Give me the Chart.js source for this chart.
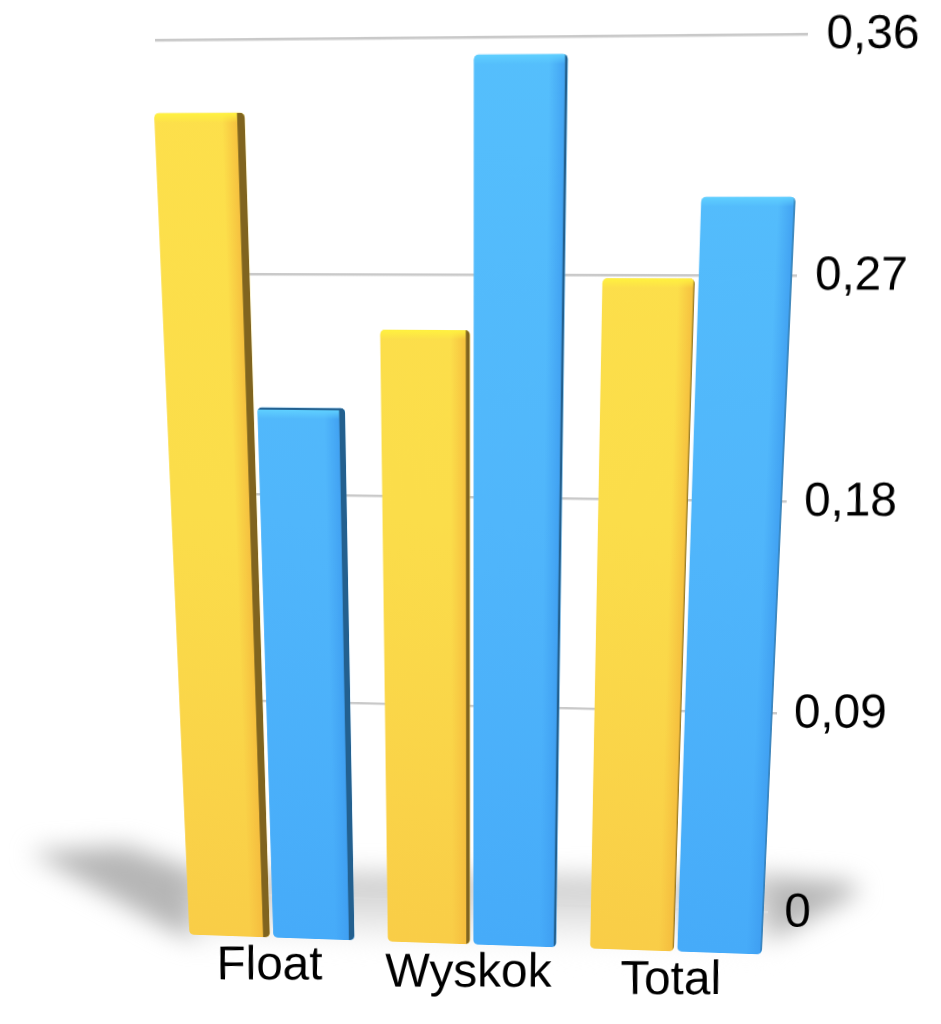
<!DOCTYPE html>
<html>
<head>
    <title>Float Wyskok Total</title>
    <script src="https://cdn.jsdelivr.net/npm/chart.js"></script>
    <style>
        html, body { margin: 0; background: #fff; overflow: hidden; width: 941px; height: 1024px; }
        canvas { position: absolute; left: 0; top: 0; transform-origin: 0 0; }
        .blur { position: absolute; left: 0; top: 0; width: 941px; height: 1024px; }
        .blur div { position: absolute; left: 0; top: 0; width: 941px; height: 1024px; }
    </style>
</head>
<body>
    <!-- floor shadow behind the bars -->
    <div class="blur" style="filter: blur(12px)">
        <div style="background:#b6b6b6; clip-path: polygon(30px 852px, 125px 846px, 200px 872px, 200px 942px, 170px 930px)"></div>
        <div style="background:#b6b6b6; clip-path: polygon(750px 874px, 850px 882px, 860px 892px, 750px 952px)"></div>
        <div style="background:linear-gradient(#c8c8c8 874px, #f0f0f0 930px, #fff 950px); clip-path: polygon(190px 870px, 770px 878px, 770px 955px, 190px 935px)"></div>
    </div>

    <canvas id="wallChart" width="941" height="1100"></canvas>
    <canvas id="barChart" width="941" height="1100"></canvas>

    <script>
        // chart values
        const categories = ['Float', 'Wyskok', 'Total'];
        const yellowValues = [0.3315, 0.252, 0.2715];
        const blueValues = [0.222, 0.3515, 0.301];
        const tickValues = [0, 0.09, 0.18, 0.27, 0.36];
        const tickLabels = ['0', '0,09', '0,18', '0,27', '0,36'];

        // where the plot rectangles land on the page: TL, TR, BR, BL
        const wallQuad = [[155, 40], [808, 34], [768, 912], [193, 892.5]];
        const barQuad = [[132, 33], [823, 27], [779, 955], [173, 934]];

        const labelFont = '47.5px "Liberation Sans", Arial, sans-serif';

        // homography that maps a rectangle onto a quad
        function rectToQuad(area, q) {
            const W = area.right - area.left, H = area.bottom - area.top;
            const [x0, y0] = q[0], [x1, y1] = q[1], [x2, y2] = q[2], [x3, y3] = q[3];
            const dx1 = x1 - x2, dx2 = x3 - x2, sx = x0 - x1 + x2 - x3;
            const dy1 = y1 - y2, dy2 = y3 - y2, sy = y0 - y1 + y2 - y3;
            const den = dx1 * dy2 - dx2 * dy1;
            const g = (sx * dy2 - dx2 * sy) / den;
            const h = (dx1 * sy - sx * dy1) / den;
            const a = x1 - x0 + g * x1, b = x3 - x0 + h * x3;
            const d = y1 - y0 + g * y1, e = y3 - y0 + h * y3;
            const m11 = a / W, m12 = b / H, m13 = x0 - m11 * area.left - m12 * area.top;
            const m21 = d / W, m22 = e / H, m23 = y0 - m21 * area.left - m22 * area.top;
            const m31 = g / W, m32 = h / H, m33 = 1 - m31 * area.left - m32 * area.top;
            return [m11, m12, m13, m21, m22, m23, m31, m32, m33];
        }

        function cssMatrix(m) {
            return 'matrix3d(' + [m[0], m[3], 0, m[6], m[1], m[4], 0, m[7], 0, 0, 1, 0, m[2], m[5], 0, m[8]].join(',') + ')';
        }

        // writes text that stays upright on the page although the canvas is warped
        function uprightText(c, m, text, x, y, align, baseline) {
            const w = m[6] * x + m[7] * y + m[8];
            const X = (m[0] * x + m[1] * y + m[2]) / w;
            const Y = (m[3] * x + m[4] * y + m[5]) / w;
            const jxx = (m[0] - X * m[6]) / w, jxy = (m[1] - X * m[7]) / w;
            const jyx = (m[3] - Y * m[6]) / w, jyy = (m[4] - Y * m[7]) / w;
            const det = jxx * jyy - jxy * jyx;
            c.save();
            c.transform(jyy / det, -jyx / det, -jxy / det, jxx / det, x, y);
            c.font = labelFont;
            c.fillStyle = '#000';
            c.textAlign = align;
            c.textBaseline = baseline;
            c.fillText(text, 0, 0);
            c.restore();
        }

        function barGradient(ctx, stops) {
            const area = ctx.chart.chartArea;
            if (!area) return stops[1];
            const g = ctx.chart.ctx.createLinearGradient(0, area.top, 0, area.bottom);
            g.addColorStop(0, stops[0]);
            g.addColorStop(0.5, stops[1]);
            g.addColorStop(1, stops[2]);
            return g;
        }

        // warps the canvas and places the value labels along the y scale
        const wallPlugin = {
            id: 'wall',
            afterDraw(chart) {
                const m = rectToQuad(chart.chartArea, wallQuad);
                chart.canvas.style.transform = cssMatrix(m);
                const ys = chart.scales.y;
                tickValues.forEach((v, i) => {
                    uprightText(chart.ctx, m, tickLabels[i], chart.chartArea.right + 18, ys.getPixelForValue(v) + 1, 'left', 'middle');
                });
            }
        };

        // dark side face, top face and highlight painted on each bar, then the category names
        const barPlugin = {
            id: 'bevel',
            afterDatasetsDraw(chart) {
                const c = chart.ctx;
                const xs = chart.scales.x;
                chart.data.datasets.forEach((ds, i) => {
                    chart.getDatasetMeta(i).data.forEach(bar => {
                        const left = bar.x - bar.width / 2, right = bar.x + bar.width / 2;
                        const top = bar.y, bottom = bar.base;
                        const t = (bar.x - xs.left) / xs.width;
                        const side = Math.max(1.2, 9 - t * 11);
                        const page = top / 1100;
                        const topFace = Math.max(0, Math.min(5, (page - 0.3) * 30));
                        c.save();
                        c.beginPath();
                        c.roundRect(left, top, bar.width, bottom - top, [5, 5, 6, 6]);
                        c.clip();
                        // soft edge next to the side face
                        const edge = c.createLinearGradient(right - side - 16, 0, right - side, 0);
                        edge.addColorStop(0, ds.edgeColor + '00');
                        edge.addColorStop(1, ds.edgeColor + 'cc');
                        c.fillStyle = edge;
                        c.fillRect(right - side - 16, top, 16, bottom - top);
                        // highlight under the top edge
                        const hi = c.createLinearGradient(0, top + topFace, 0, top + topFace + 9);
                        hi.addColorStop(0, ds.highlightColor);
                        hi.addColorStop(1, ds.highlightColor + '00');
                        c.fillStyle = hi;
                        c.fillRect(left, top + topFace, bar.width, 9);
                        // top and right faces
                        c.fillStyle = ds.sideColor;
                        c.fillRect(right - side, top, side, bottom - top);
                        if (topFace > 0.5) c.fillRect(left, top, bar.width, topFace);
                        c.restore();
                    });
                });
            },
            afterDraw(chart) {
                const m = rectToQuad(chart.chartArea, barQuad);
                chart.canvas.style.transform = cssMatrix(m);
                categories.forEach((name, i) => {
                    uprightText(chart.ctx, m, name, chart.scales.x.getPixelForValue(i) - 4, chart.chartArea.bottom + 49, 'center', 'alphabetic');
                });
            }
        };

        // back wall: grid lines and value labels
        new Chart(document.getElementById('wallChart').getContext('2d'), {
            type: 'bar',
            data: { labels: categories, datasets: [] },
            options: {
                responsive: false,
                animation: false,
                layout: { padding: { top: 60, bottom: 160, left: 150, right: 141 } },
                plugins: { legend: { display: false }, tooltip: { enabled: false } },
                scales: {
                    x: { display: false },
                    y: {
                        position: 'right',
                        min: 0,
                        max: 0.36,
                        afterBuildTicks(axis) { axis.ticks = tickValues.map(v => ({ value: v })); },
                        border: { display: false },
                        grid: {
                            drawTicks: false,
                            lineWidth: 2.4,
                            color: c => c.tick && c.tick.value === 0 ? '#dcdcdc' : '#c9c9c9'
                        },
                        ticks: { display: false }
                    }
                }
            },
            plugins: [wallPlugin]
        });

        // bars stand in front of the wall, so they get their own plane
        new Chart(document.getElementById('barChart').getContext('2d'), {
            type: 'bar',
            data: {
                labels: categories,
                datasets: [{
                    data: yellowValues,
                    backgroundColor: c => barGradient(c, ['#fde04b', '#fbdd4a', '#f9cd47']),
                    sideColor: '#80641f',
                    edgeColor: '#f4b93c',
                    highlightColor: '#fff23f',
                    borderRadius: 5,
                    borderSkipped: false
                }, {
                    data: blueValues,
                    backgroundColor: c => barGradient(c, ['#55bffc', '#50b6fb', '#46abf9']),
                    sideColor: '#23608f',
                    edgeColor: '#3d9cf0',
                    highlightColor: '#5fd0ff',
                    borderRadius: 5,
                    borderSkipped: false
                }]
            },
            options: {
                responsive: false,
                animation: false,
                categoryPercentage: 0.85,
                barPercentage: 0.96,
                layout: { padding: { top: 60, bottom: 120, left: 125, right: 125 } },
                plugins: { legend: { display: false }, tooltip: { enabled: false } },
                scales: {
                    y: { display: false, min: 0, max: 0.36 },
                    x: {
                        border: { display: false },
                        grid: { display: false, drawTicks: false },
                        ticks: { display: false }
                    }
                }
            },
            plugins: [barPlugin]
        });
    </script>
</body>
</html>
